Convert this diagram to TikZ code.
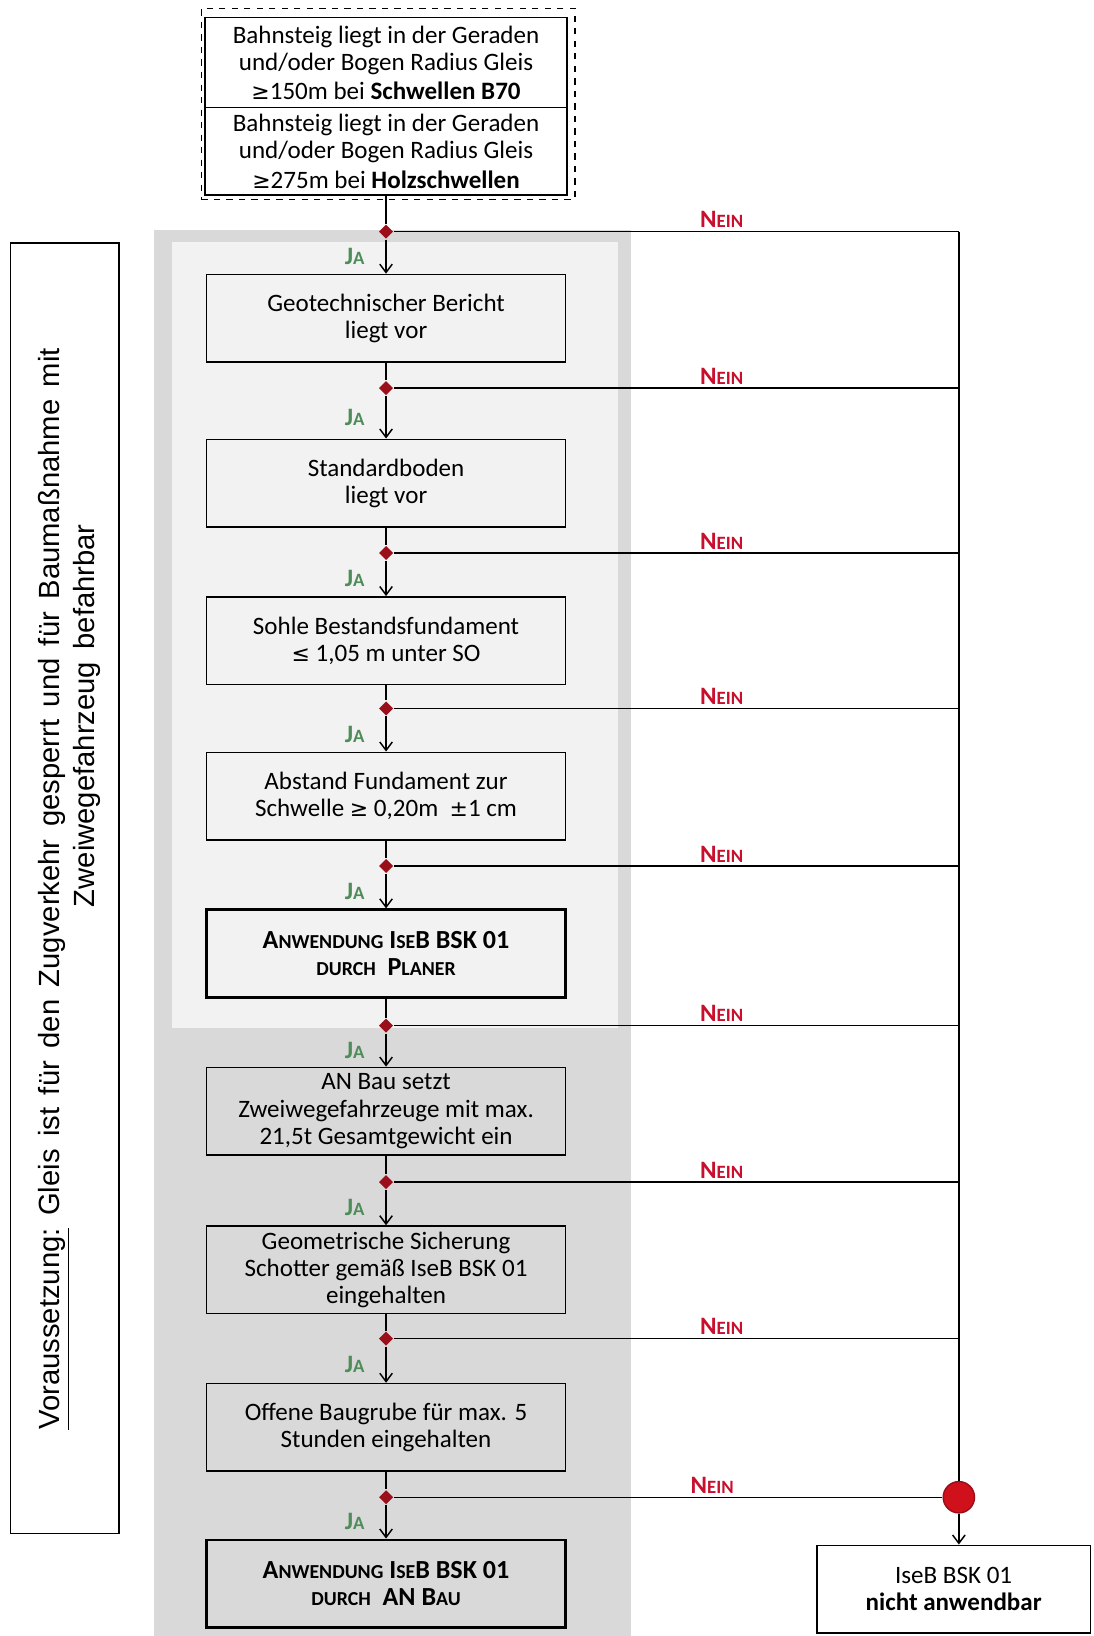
\documentclass[tikz,border=0pt]{standalone}
\usepackage{fontspec}
\setmainfont{Carlito}
\newfontfamily\arialfont{Liberation Sans}
\newfontfamily\symfont{DejaVu Sans}
\usetikzlibrary{shapes.geometric,arrows.meta}

\definecolor{darkbg}{HTML}{D9D9D9}
\definecolor{lightbg}{HTML}{F2F2F2}
\definecolor{jagreen}{HTML}{4E8C5A}
\definecolor{neinred}{HTML}{C8102E}
\definecolor{knotred}{HTML}{9B0F1A}
\definecolor{mergered}{HTML}{D0101A}

\newcommand{\smc}[1]{{\fontsize{9.5}{10}\selectfont #1}}
\newcommand{\ja}{\textcolor{jagreen}{\textbf{J{\fontsize{9}{10}\selectfont A}}}}
\newcommand{\nein}{\textcolor{neinred}{\textbf{N{\fontsize{9}{10}\selectfont EIN}}}}
\newcommand{\sym}[1]{{\symfont\fontsize{10.5}{13}\selectfont #1}}
\newcommand{\sidefont}{\arialfont\fontsize{14}{16}\selectfont\spaceskip 6pt\relax}

\begin{document}
\begin{tikzpicture}
  [x=0.5pt,y=-0.5pt,line width=0.7pt,
   every node/.style={font=\fontsize{12}{13}\selectfont},
   stepbox/.style={draw,minimum width=172pt,minimum height=42pt,align=center,inner sep=2pt},
   finalbox/.style={stepbox,line width=1.4pt,font=\fontsize{12.5}{13}\selectfont\bfseries},
   sidetext/.style={rotate=90,anchor=base west,inner sep=0pt,font=\sidefont},
   knot/.style={diamond,fill=knotred,inner sep=0pt,minimum size=7pt},
   merge/.style={circle,fill=mergered,draw=knotred,inner sep=0pt,minimum size=15pt},
   arr/.style={-{Straight Barb[length=4pt,width=6pt]}}]
  \useasboundingbox (0,0) rectangle (1048,1568);

  % background areas
  \fill[darkbg] (148,220) rectangle (605,1568);
  \fill[lightbg] (165,232) rectangle (592,985);

  % precondition
  \node (prereq) [draw,minimum width=52pt,minimum height=618.5pt] at (62,851.5) {};
  \node (pre1) [sidetext] at (57,1371)
    {\underline{Voraussetzung:} Gleis ist für den Zugverkehr gesperrt und für Baumaßnahme mit};
  \node (pre2) [sidetext] at (91,870) {Zweiwegefahrzeug befahrbar};

  \node (cond) [draw,dashed,minimum width=179pt,minimum height=91.5pt] at (372,99.5) {};
  \node (top1) [stepbox,fill=white,minimum width=173.5pt,minimum height=43pt] at (370,60)
    {Bahnsteig liegt in der Geraden\\und/oder Bogen Radius Gleis\\[1pt]\sym{≥}150m bei \textbf{Schwellen B70}};
  \node (top2) [stepbox,fill=white,minimum width=173.5pt] at (370,145)
    {Bahnsteig liegt in der Geraden\\und/oder Bogen Radius Gleis\\[1pt]\sym{≥}275m bei \textbf{Holzschwellen}};

  \node (b1) [stepbox] at (370,305)  {Geotechnischer Bericht\\liegt vor};
  \node (b2) [stepbox] at (370,463)  {Standardboden\\liegt vor};
  \node (b3) [stepbox] at (370,614)  {Sohle Bestandsfundament\\\sym{≤} 1,05 m unter SO};
  \node (b4) [stepbox] at (370,763)  {Abstand Fundament zur\\Schwelle \sym{≥} 0,20m \ \sym{±}1 cm};
  \node (b5) [finalbox] at (370,914) {A\smc{NWENDUNG} I\smc{SE}B BSK 01\\\smc{DURCH} \ P\smc{LANER}};
  \node (b6) [stepbox] at (370,1065) {AN Bau setzt\\Zweiwegefahrzeuge mit max.\\21,5t Gesamtgewicht ein};
  \node (b7) [stepbox] at (370,1217) {Geometrische Sicherung\\Schotter gemäß IseB BSK 01\\eingehalten};
  \node (b8) [stepbox] at (370,1368) {Offene Baugrube für max. 5\\Stunden eingehalten};
  \node (b9) [finalbox] at (370,1518) {A\smc{NWENDUNG} I\smc{SE}B BSK 01\\\smc{DURCH} \ AN B\smc{AU}};

  \node (fail) [stepbox,fill=white,minimum width=131pt] at (914,1523) {IseB BSK 01\\\textbf{nicht anwendbar}};
  \node (merge) [merge] at (919,1435) {};

  \foreach \i/\y in {1/222,2/372,3/530,4/679,5/830,6/983,7/1133,8/1283,9/1435} {
    \node (d\i) [knot] at (370,\y) {};
    \coordinate (r\i) at (919,\y);
  }

  \draw (top2.south) -- (d1);
  \foreach \from/\to in {b1/d2,b2/d3,b3/d4,b4/d5,b5/d6,b6/d7,b7/d8,b8/d9}
    \draw (\from) -- (\to);
  \foreach \from/\to in {d1/b1,d2/b2,d3/b3,d4/b4,d5/b5,d6/b6,d7/b7,d8/b8,d9/b9}
    \draw[arr] (\from) -- node[midway,left=10pt,inner sep=0pt] {\ja} (\to);
  \foreach \from/\to in {d1/r1,d2/r2,d3/r3,d4/r4,d5/r5,d6/r6,d7/r7,d8/r8,d9/merge}
    \draw (\from) -- node[pos=0.58,above,inner sep=1.5pt] {\nein} (\to);

  \draw (r1) -- (merge);
  \draw[arr] (merge) -- (merge |- fail.north);
\end{tikzpicture}
\end{document}
